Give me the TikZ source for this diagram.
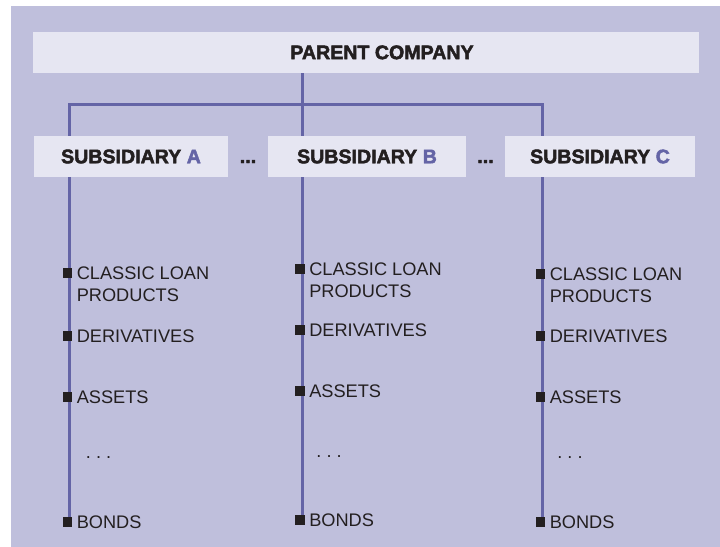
\documentclass[tikz,border=0pt]{standalone}
\usepackage{fontspec}
\setmainfont{Liberation Sans}
\newfontfamily\headfont{Liberation Sans Bold}[FakeBold=2.4]
\usetikzlibrary{positioning}
\definecolor{bgcol}{RGB}{191,191,220}
\definecolor{boxcol}{RGB}{230,230,242}
\definecolor{linecol}{RGB}{100,100,166}
\definecolor{inkcol}{RGB}{35,31,32}
\pgfdeclarelayer{back}
\pgfdeclarelayer{wires}
\pgfsetlayers{back,wires,main}

\begin{document}
\begin{tikzpicture}[x=0.5pt,y=-0.5pt,
        box/.style={fill=boxcol,inner sep=0pt,text=inkcol,font=\headfont\fontsize{9.8}{11}\selectfont},
        link/.style={draw=linecol,line width=1.5pt},
        bullet/.style={fill=inkcol,inner sep=0pt,minimum size=4.7pt},
        item/.style={inner sep=0pt,text=inkcol,align=left,font=\fontsize{9.1}{11}\selectfont}]
        \useasboundingbox (0,0) rectangle (720,547);
        \begin{pgfonlayer}{back}
        \fill [bgcol] (11,6) rectangle (720,547);
        \end{pgfonlayer}
        % boxes
        \node [box,minimum width=333pt,minimum height=20.4pt] (parent) at (366,52.4) {\hspace*{16pt}PARENT COMPANY};
        \node [box,minimum width=97pt,minimum height=20.5pt] (subA) at (131,156.5) {SUBSIDIARY \textcolor{linecol}{A}};
        \node [box,minimum width=99pt,minimum height=20.5pt] (subB) at (367,156.5) {SUBSIDIARY \textcolor{linecol}{B}};
        \node [box,minimum width=95pt,minimum height=20.5pt] (subC) at (600,156.5) {SUBSIDIARY \textcolor{linecol}{C}};
        \node [box,fill=none,anchor=base] (dotsAB) at (248,163) {...};
        \node [box,fill=none,anchor=base] (dotsBC) at (485.5,163) {...};
        % subsidiary A
        \node [bullet] (a1) at (67.5,273) {};
        \node [item,anchor=north west] (ta1) at ([xshift=1.9pt,yshift=3.3pt]a1.east) {CLASSIC LOAN\\PRODUCTS};
        \node [bullet] (a2) at (67.5,336) {};
        \node [item,right=1.9pt of a2] (ta2) {DERIVATIVES};
        \node [bullet] (a3) at (67.5,397) {};
        \node [item,right=1.9pt of a3] (ta3) {ASSETS};
        \node [item,anchor=base west] (ta4) at (85.5,458) {.\ .\ .};
        \node [bullet] (a5) at (67.5,522) {};
        \node [item,right=1.9pt of a5] (ta5) {BONDS};
        % subsidiary B
        \node [bullet] (b1) at (300,269) {};
        \node [item,anchor=north west] (tb1) at ([xshift=1.9pt,yshift=3.3pt]b1.east) {CLASSIC LOAN\\PRODUCTS};
        \node [bullet] (b2) at (300,330) {};
        \node [item,right=1.9pt of b2] (tb2) {DERIVATIVES};
        \node [bullet] (b3) at (300,391) {};
        \node [item,right=1.9pt of b3] (tb3) {ASSETS};
        \node [item,anchor=base west] (tb4) at (316,457) {.\ .\ .};
        \node [bullet] (b5) at (300,520) {};
        \node [item,right=1.9pt of b5] (tb5) {BONDS};
        % subsidiary C
        \node [bullet] (c1) at (540.5,274) {};
        \node [item,anchor=north west] (tc1) at ([xshift=1.9pt,yshift=3.3pt]c1.east) {CLASSIC LOAN\\PRODUCTS};
        \node [bullet] (c2) at (540.5,336) {};
        \node [item,right=1.9pt of c2] (tc2) {DERIVATIVES};
        \node [bullet] (c3) at (540.5,397) {};
        \node [item,right=1.9pt of c3] (tc3) {ASSETS};
        \node [item,anchor=base west] (tc4) at (557,458) {.\ .\ .};
        \node [bullet] (c5) at (540.5,522) {};
        \node [item,right=1.9pt of c5] (tc5) {BONDS};
        % links
        \coordinate (jA) at (70,104);
        \coordinate (jB) at (302.5,104);
        \coordinate (jC) at (543,104);
        \begin{pgfonlayer}{wires}
        \draw [link] (jA |- a5) -- (jA) -- (jC) -- (jC |- c5);
        \draw [link] (parent.south -| jB) -- (jB |- b5);
        \end{pgfonlayer}
\end{tikzpicture}
\end{document}
